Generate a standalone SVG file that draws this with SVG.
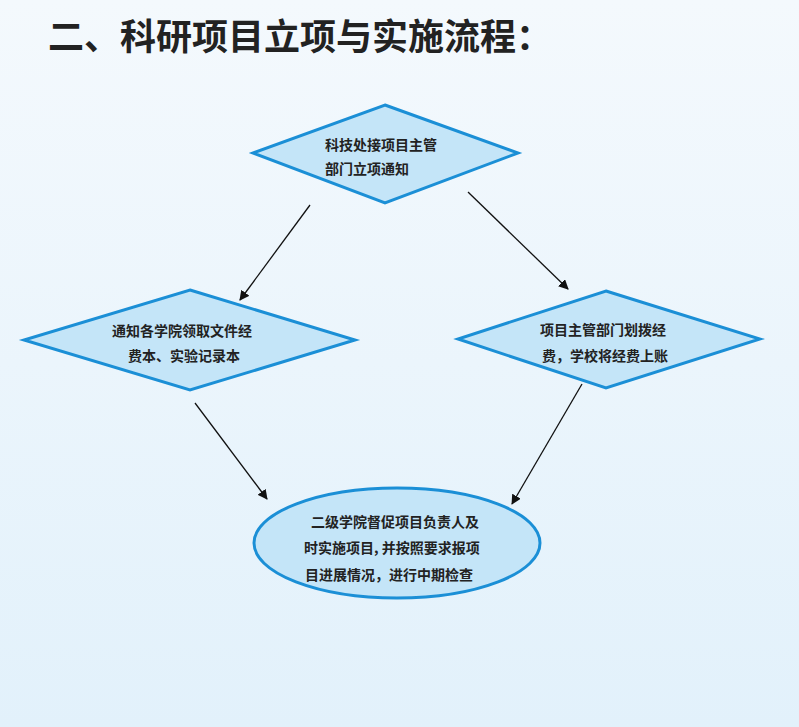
<svg xmlns="http://www.w3.org/2000/svg" width="799" height="727" viewBox="0 0 799 727">
<defs>
<linearGradient id="bg" x1="0" y1="0" x2="0" y2="1"><stop offset="0" stop-color="#f4f9fd"/><stop offset="1" stop-color="#e2f1fb"/></linearGradient>
<marker id="ah" viewBox="0 0 10 10" refX="9" refY="5" markerWidth="10" markerHeight="10" orient="auto" markerUnits="userSpaceOnUse"><path d="M0,0L10,5L0,10z" fill="#111"/></marker>
<style>
.n{fill:#c4e5f8;stroke:#1b8fd6;stroke-width:3}
.t{font-family:"Noto Sans CJK SC",sans-serif;font-size:14px;font-weight:bold;fill:#222}
.c{stroke:#111;stroke-width:1.3;fill:none;marker-end:url(#ah)}
</style>
</defs>
<rect width="799" height="727" fill="url(#bg)"/>
<text x="48" y="50" font-family="Noto Sans CJK SC,sans-serif" font-size="36" font-weight="bold" fill="#222">二、科研项目立项与实施流程：</text>
<g id="connectors">
<line class="c" x1="310" y1="205" x2="240" y2="300"/>
<line class="c" x1="468" y1="192" x2="568" y2="289"/>
<line class="c" x1="195" y1="403" x2="267" y2="499"/>
<line class="c" x1="582" y1="384" x2="512" y2="504"/>
</g>
<g id="n1"><polygon class="n" points="385,105 518,153 385,203 253,153"/>
<text class="t" x="325" y="150">科技处接项目主管</text><text class="t" x="325" y="174">部门立项通知</text></g>
<g id="n2"><polygon class="n" points="190,290 355,340 190,390 24,340"/>
<text class="t" x="112" y="336">通知各学院领取文件经</text><text class="t" x="128" y="361">费本、实验记录本</text></g>
<g id="n3"><polygon class="n" points="606,291 760,339 606,388 458,339"/>
<text class="t" x="540" y="335">项目主管部门划拨经</text><text class="t" x="542" y="361">费，学校将经费上账</text></g>
<g id="n4"><ellipse class="n" cx="397" cy="543" rx="143" ry="55"/>
<text class="t" x="311" y="527">二级学院督促项目负责人及</text><text class="t" x="304" y="553">时实施项目, 并按照要求报项</text><text class="t" x="305" y="580">目进展情况，进行中期检查</text></g>
</svg>
